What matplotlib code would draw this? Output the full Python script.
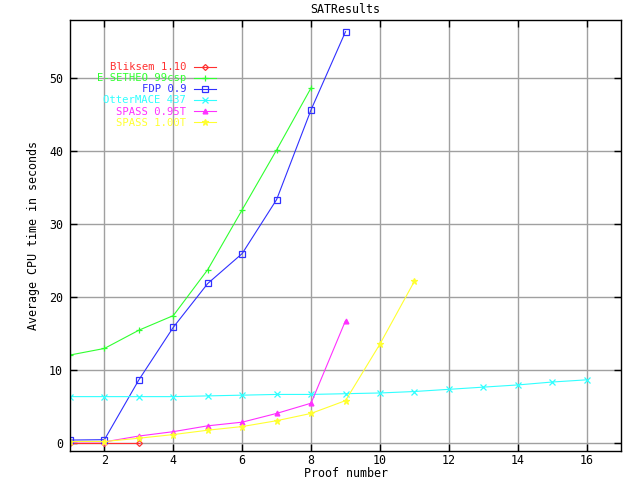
import matplotlib
matplotlib.use("Agg")
import matplotlib.pyplot as plt

plt.rcParams['font.family'] = ['DejaVu Sans Mono']

# data
bliksem_x = [1, 2, 3]
bliksem_y = [0.0, 0.0, 0.0]
esetheo_x = [1, 2, 3, 4, 5, 6, 7, 8]
esetheo_y = [12.0, 12.9, 15.4, 17.4, 23.7, 31.9, 40.1, 48.6]
fdp_x = [1, 2, 3, 4, 5, 6, 7, 8, 9]
fdp_y = [0.35, 0.4, 8.6, 15.8, 21.8, 25.9, 33.3, 45.6, 56.3]
otter_x = list(range(1, 17))
otter_y = [6.3, 6.3, 6.3, 6.3, 6.4, 6.5, 6.6, 6.6, 6.7, 6.8, 7.0, 7.3, 7.6, 7.9, 8.3, 8.6]
spass95_x = [1, 2, 3, 4, 5, 6, 7, 8, 9]
spass95_y = [0.1, 0.1, 0.9, 1.5, 2.3, 2.8, 4.0, 5.4, 16.7]
spass100_x = [1, 2, 3, 4, 5, 6, 7, 8, 9, 10, 11]
spass100_y = [0.15, 0.15, 0.6, 1.1, 1.7, 2.2, 3.0, 4.0, 5.75, 13.5, 22.1]

labels = ["Bliksem 1.10", "E-SETHEO 99csp", "FDP 0.9", "OtterMACE 437",
          "SPASS 0.95T", "SPASS 1.00T"]
colors = ['#ff3030', '#30ff30', '#3030ff', '#30ffff', '#ff30ff', '#ffff30']
markers = ['D', '+', 's', 'x', '^', '*']
msizes = [3, 4, 4, 4, 3.5, 4.5]

fig = plt.figure(figsize=(6.4, 4.8), dpi=100)
ax = fig.add_axes([70 / 640, 1 - 451 / 480, 551 / 640, 431 / 480])

series = [(bliksem_x, bliksem_y), (esetheo_x, esetheo_y), (fdp_x, fdp_y),
          (otter_x, otter_y), (spass95_x, spass95_y), (spass100_x, spass100_y)]
for (x, y), lab, c, m, ms in zip(series, labels, colors, markers, msizes):
    face = 'none' if m in ('D', 's') else c
    ax.plot(x, y, color=c, marker=m, markersize=ms, markeredgewidth=0.9,
            markerfacecolor=face, linewidth=0.8, label=lab)

ax.set_xlim(1, 17)
ax.set_ylim(-1.15, 57.9)
ax.set_xticks(range(2, 17, 2))
ax.set_yticks(range(0, 51, 10))
ax.grid(True, color='#a0a0a0', linewidth=1)
ax.set_axisbelow(True)
ax.tick_params(direction='in', length=5, width=1, top=True, right=True,
               labelsize=8.4, pad=5)
ax.tick_params(axis='x', pad=2.5)
for s in ax.spines.values():
    s.set_linewidth(1)

ax.set_title("SATResults", fontsize=8.4, pad=5)
ax.set_xlabel("Proof number", fontsize=8.4, labelpad=0)
ax.set_ylabel("Average CPU time in seconds", fontsize=8.4, labelpad=6.4)

# key: text right-aligned, line sample after it
ax.legend(loc='upper right', bbox_to_anchor=(0.278, 0.919), markerfirst=False,
          frameon=False, fontsize=7.6, labelcolor='linecolor',
          handlelength=2.1, labelspacing=0.1, handletextpad=0.7,
          borderaxespad=0.3)

fig.savefig("out.png", dpi=100)
